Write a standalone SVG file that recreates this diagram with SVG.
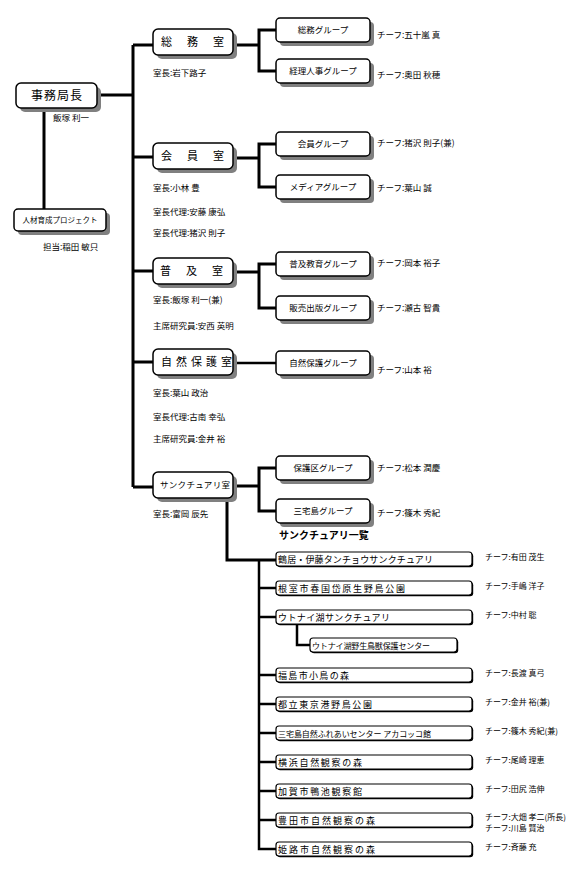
<svg xmlns="http://www.w3.org/2000/svg" width="584" height="870" viewBox="0 0 584 870">
<style>
text{font-family:"Noto Sans CJK JP","Noto Sans CJK SC",sans-serif;fill:#000}
.bx{fill:#fff;stroke:#000;stroke-width:1.5}
.sh{fill:#808080}
.sb{fill:#fff;stroke:#000;stroke-width:1.2}
.ss{fill:#000}
.main{font-size:11px}
.grp{font-size:8.5px;text-anchor:middle}
.side{font-size:8.5px}
.chief{font-size:8px}
.gchief{font-size:8.5px}
.sn{font-size:9px}
.ln{fill:none;stroke:#000;stroke-width:3}
.lt{fill:none;stroke:#000;stroke-width:2.5}
</style>
<rect width="584" height="870" fill="#fff"/>
<g id="connectors">
<path class="ln" d="M97 95H133M44 108V209M133 45V487M133 45H153M133 157H153M133 271H153M133 362H153M133 487H153"/>
<path class="ln" d="M233 45H259M276 30H259V71H276"/>
<path class="ln" d="M233 158H259M276 144H259V187H276"/>
<path class="ln" d="M233 272H259M276 264H259V308H276"/>
<path class="lt" d="M233 363H276"/>
<path class="ln" d="M233 486H259M276 468H259V511H276"/>
<path class="ln" d="M227 497V560H276"/>
<path class="lt" d="M259 560V849H276M259 588H276M259 617H276M259 675H276M259 704H276M259 733H276M259 762H276M259 791H276M259 820H276"/>
<path class="lt" d="M297 623V645H310"/>
</g>
<g id="jimukyokucho">
<rect class="sh" x="20" y="87" width="81" height="25" rx="5"/>
<rect class="bx" x="16" y="83" width="81" height="25" rx="5"/>
<text x="57" y="100" font-size="12" letter-spacing="1" text-anchor="middle">事務局長</text>
<text class="side" x="53" y="121">飯塚 利一</text>
</g>
<g id="jinzai">
<rect class="sh" x="18" y="213" width="92" height="22" rx="4"/>
<rect class="bx" x="14" y="209" width="92" height="22" rx="4"/>
<text x="60" y="223" font-size="7.5" text-anchor="middle">人材育成プロジェクト</text>
<text class="side" x="43" y="250">担当:稲田 敏只</text>
</g>
<g id="soumu">
<rect class="sh" x="157" y="33" width="80" height="26" rx="5"/>
<rect class="bx" x="153" y="29" width="80" height="26" rx="5"/>
<text class="main" x="161" y="46" letter-spacing="2">総　務　室</text>
<text class="side" x="153" y="76">室長:岩下路子</text>
</g>
<g id="kaiin">
<rect class="sh" x="157" y="147" width="80" height="26" rx="5"/>
<rect class="bx" x="153" y="143" width="80" height="26" rx="5"/>
<text class="main" x="161" y="160" letter-spacing="2">会　員　室</text>
<text class="side" x="153" y="191">室長:小林 豊</text>
<text class="side" x="153" y="215">室長代理:安藤 康弘</text>
<text class="side" x="153" y="236">室長代理:猪沢 則子</text>
</g>
<g id="fukyu">
<rect class="sh" x="157" y="262" width="80" height="26" rx="5"/>
<rect class="bx" x="153" y="258" width="80" height="26" rx="5"/>
<text class="main" x="160" y="275" letter-spacing="2">普　及　室</text>
<text class="side" x="153" y="303">室長:飯塚 利一(兼)</text>
<text class="side" x="153" y="329">主席研究員:安西 英明</text>
</g>
<g id="shizen">
<rect class="sh" x="157" y="353" width="80" height="26" rx="5"/>
<rect class="bx" x="153" y="349" width="80" height="26" rx="5"/>
<text class="main" x="161" y="366" letter-spacing="4">自然保護室</text>
<text class="side" x="153" y="396">室長:葉山 政治</text>
<text class="side" x="153" y="420">室長代理:古南 幸弘</text>
<text class="side" x="153" y="442">主席研究員:金井 裕</text>
</g>
<g id="sanctuary">
<rect class="sh" x="157" y="476" width="80" height="26" rx="5"/>
<rect class="bx" x="153" y="472" width="80" height="26" rx="5"/>
<text x="160" y="488" font-size="8.5" letter-spacing="0.3">サンクチュアリ室</text>
<text class="side" x="153" y="517">室長:富岡 辰先</text>
</g>
<g id="g-soumu">
<rect class="sh" x="280" y="22" width="94" height="24" rx="4"/>
<rect class="bx" x="276" y="18" width="94" height="24" rx="4"/>
<text class="grp" x="323" y="33">総務グループ</text>
<text class="gchief" x="377" y="38">チーフ:五十嵐 真</text>
</g>
<g id="g-keiri">
<rect class="sh" x="280" y="63" width="94" height="24" rx="4"/>
<rect class="bx" x="276" y="59" width="94" height="24" rx="4"/>
<text class="grp" x="323" y="74">経理人事グループ</text>
<text class="gchief" x="377" y="78">チーフ:奥田 秋穂</text>
</g>
<g id="g-kaiin">
<rect class="sh" x="280" y="136" width="94" height="24" rx="4"/>
<rect class="bx" x="276" y="132" width="94" height="24" rx="4"/>
<text class="grp" x="323" y="147">会員グループ</text>
<text class="gchief" x="377" y="146">チーフ:猪沢 則子(兼)</text>
</g>
<g id="g-media">
<rect class="sh" x="280" y="179" width="94" height="24" rx="4"/>
<rect class="bx" x="276" y="175" width="94" height="24" rx="4"/>
<text class="grp" x="323" y="190">メディアグループ</text>
<text class="gchief" x="377" y="191">チーフ:葉山 誠</text>
</g>
<g id="g-fukyu">
<rect class="sh" x="280" y="256" width="94" height="24" rx="4"/>
<rect class="bx" x="276" y="252" width="94" height="24" rx="4"/>
<text class="grp" x="323" y="267">普及教育グループ</text>
<text class="gchief" x="377" y="266">チーフ:岡本 裕子</text>
</g>
<g id="g-hanbai">
<rect class="sh" x="280" y="300" width="94" height="24" rx="4"/>
<rect class="bx" x="276" y="296" width="94" height="24" rx="4"/>
<text class="grp" x="323" y="311">販売出版グループ</text>
<text class="gchief" x="377" y="311">チーフ:瀬古 智貴</text>
</g>
<g id="g-shizen">
<rect class="sh" x="280" y="355" width="94" height="24" rx="4"/>
<rect class="bx" x="276" y="351" width="94" height="24" rx="4"/>
<text class="grp" x="323" y="366">自然保護グループ</text>
<text class="gchief" x="377" y="373">チーフ:山本 裕</text>
</g>
<g id="g-hogoku">
<rect class="sh" x="280" y="460" width="94" height="24" rx="4"/>
<rect class="bx" x="276" y="456" width="94" height="24" rx="4"/>
<text class="grp" x="323" y="471">保護区グループ</text>
<text class="gchief" x="377" y="471">チーフ:松本 潤慶</text>
</g>
<g id="g-miyake">
<rect class="sh" x="280" y="503" width="94" height="24" rx="4"/>
<rect class="bx" x="276" y="499" width="94" height="24" rx="4"/>
<text class="grp" x="323" y="514">三宅島グループ</text>
<text class="gchief" x="377" y="516">チーフ:篠木 秀紀</text>
</g>
<g id="list-title">
<text x="279" y="539" font-size="10" font-weight="bold">サンクチュアリ一覧</text>
</g>
<g id="s1">
<rect class="ss" x="277.2" y="553.2" width="196" height="14" rx="3"/>
<rect class="sb" x="276" y="552" width="196" height="14" rx="3"/>
<text class="sn" x="278" y="562.5" textLength="155" lengthAdjust="spacing">鶴居・伊藤タンチョウサンクチュアリ</text>
<text class="chief" x="485" y="560">チーフ:有田 茂生</text>
</g>
<g id="s2">
<rect class="ss" x="277.2" y="582.2" width="196" height="14" rx="3"/>
<rect class="sb" x="276" y="581" width="196" height="14" rx="3"/>
<text class="sn" x="278" y="591.5" textLength="127" lengthAdjust="spacing">根室市春国岱原生野鳥公園</text>
<text class="chief" x="485" y="589">チーフ:手嶋 洋子</text>
</g>
<g id="s3">
<rect class="ss" x="277.2" y="611.2" width="196" height="14" rx="3"/>
<rect class="sb" x="276" y="610" width="196" height="14" rx="3"/>
<text class="sn" x="278" y="620.5" textLength="112" lengthAdjust="spacing">ウトナイ湖サンクチュアリ</text>
<text class="chief" x="485" y="618">チーフ:中村 聡</text>
</g>
<g id="s3-sub">
<rect class="ss" x="311.2" y="639.2" width="147" height="14" rx="3"/>
<rect class="sb" x="310" y="638" width="147" height="14" rx="3"/>
<text x="312" y="648.5" font-size="8" textLength="118" lengthAdjust="spacing">ウトナイ湖野生鳥獣保護センター</text>
</g>
<g id="s4">
<rect class="ss" x="277.2" y="669.2" width="196" height="14" rx="3"/>
<rect class="sb" x="276" y="668" width="196" height="14" rx="3"/>
<text class="sn" x="278" y="678.5" textLength="71" lengthAdjust="spacing">福島市小鳥の森</text>
<text class="chief" x="485" y="676">チーフ:長渡 真弓</text>
</g>
<g id="s5">
<rect class="ss" x="277.2" y="698.2" width="196" height="14" rx="3"/>
<rect class="sb" x="276" y="697" width="196" height="14" rx="3"/>
<text class="sn" x="278" y="707.5" textLength="94" lengthAdjust="spacing">都立東京港野鳥公園</text>
<text class="chief" x="485" y="705">チーフ:金井 裕(兼)</text>
</g>
<g id="s6">
<rect class="ss" x="277.2" y="727.2" width="196" height="14" rx="3"/>
<rect class="sb" x="276" y="726" width="196" height="14" rx="3"/>
<text x="278" y="736.5" font-size="8" textLength="153" lengthAdjust="spacing">三宅島自然ふれあいセンター アカコッコ館</text>
<text class="chief" x="485" y="734">チーフ:篠木 秀紀(兼)</text>
</g>
<g id="s7">
<rect class="ss" x="277.2" y="756.2" width="196" height="14" rx="3"/>
<rect class="sb" x="276" y="755" width="196" height="14" rx="3"/>
<text class="sn" x="278" y="765.5" textLength="84" lengthAdjust="spacing">横浜自然観察の森</text>
<text class="chief" x="485" y="763">チーフ:尾崎 理恵</text>
</g>
<g id="s8">
<rect class="ss" x="277.2" y="785.2" width="196" height="14" rx="3"/>
<rect class="sb" x="276" y="784" width="196" height="14" rx="3"/>
<text class="sn" x="278" y="794.5" textLength="84" lengthAdjust="spacing">加賀市鴨池観察館</text>
<text class="chief" x="485" y="792">チーフ:田尻 浩伸</text>
</g>
<g id="s9">
<rect class="ss" x="277.2" y="814.2" width="196" height="14" rx="3"/>
<rect class="sb" x="276" y="813" width="196" height="14" rx="3"/>
<text class="sn" x="278" y="823.5" textLength="97" lengthAdjust="spacing">豊田市自然観察の森</text>
<text class="chief" x="485" y="820">チーフ:大畑 孝二(所長)</text>
<text class="chief" x="485" y="831">チーフ:川島 賢治</text>
</g>
<g id="s10">
<rect class="ss" x="277.2" y="843.2" width="196" height="14" rx="3"/>
<rect class="sb" x="276" y="842" width="196" height="14" rx="3"/>
<text class="sn" x="278" y="852.5" textLength="97" lengthAdjust="spacing">姫路市自然観察の森</text>
<text class="chief" x="485" y="850">チーフ:斉藤 充</text>
</g>
</svg>
